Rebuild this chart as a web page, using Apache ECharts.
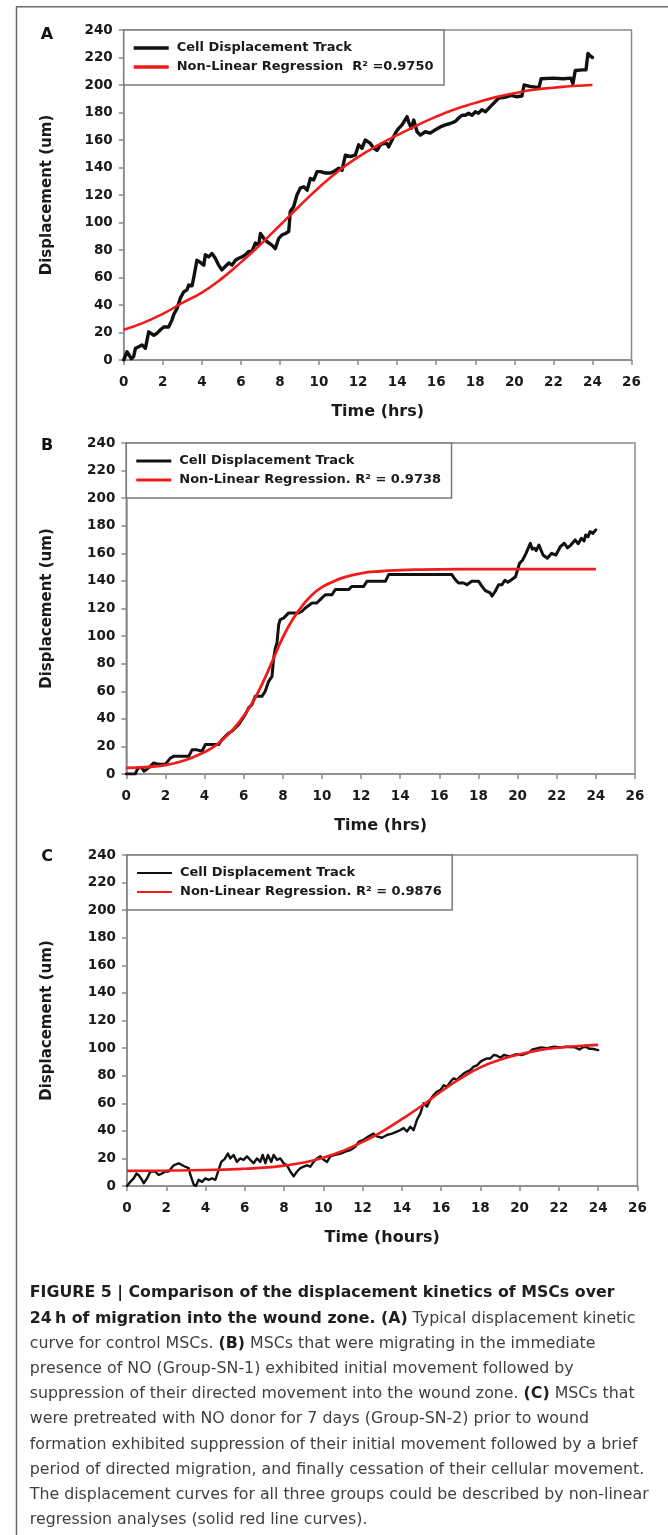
<!DOCTYPE html>
<html>
<head>
<meta charset="utf-8">
<script src="https://cdn.jsdelivr.net/npm/echarts@6/dist/echarts.min.js"></script>
<style>
  html, body { margin: 0; padding: 0; background: #fff; }
  #fig { width: 668px; height: 1535px; }
</style>
</head>
<body>
<div id="fig"></div>
<script>
// ---- Data: [time (h), displacement (um)] ----
const trackA = [[0,0],[0.17,6],[0.39,1],[0.51,2.5],[0.6,8.5],[0.77,9.7],[0.94,11],[1.11,8.5],[1.19,9],[1.28,20.5],[1.54,18],[1.71,19.5],[1.88,22],[2.05,24],[2.3,24],[2.47,29],[2.56,33],[2.65,34],[2.73,37.5],[2.9,45],[3.07,49.5],[3.24,51],[3.33,54.5],[3.5,54],[3.58,59.5],[3.75,72.5],[3.92,71],[4.1,69],[4.18,76.5],[4.35,75],[4.52,77.5],[4.69,74],[4.86,69],[5.03,65.5],[5.2,68],[5.38,70.5],[5.55,69],[5.72,72.5],[5.89,74],[6.06,75],[6.23,76.5],[6.4,79],[6.57,79],[6.74,85],[6.91,83.5],[7.0,92],[7.17,88.5],[7.34,86],[7.59,83.5],[7.76,81],[7.94,88.5],[8.11,91],[8.28,92],[8.45,93.5],[8.53,108],[8.7,111.5],[8.87,120],[9.04,125],[9.22,126],[9.39,123.5],[9.56,132],[9.73,131],[9.9,137],[10.07,137],[10.32,136],[10.58,136],[10.75,137],[11.01,139.5],[11.18,138],[11.35,149],[11.6,148],[11.86,149],[12.03,156.5],[12.2,154],[12.37,160],[12.63,157.5],[12.8,154],[12.97,152.5],[13.14,156.5],[13.31,157.5],[13.48,157.5],[13.57,155],[13.74,160],[13.91,165],[14.08,168.5],[14.25,171],[14.51,177],[14.59,173],[14.73,168.5],[14.85,174.5],[15.02,166],[15.19,163.5],[15.44,166],[15.7,165],[15.96,167.5],[16.21,169.5],[16.47,171],[16.72,172],[16.98,173.5],[17.15,176],[17.32,178],[17.49,178],[17.66,179.5],[17.83,178],[18.0,180.5],[18.17,179.5],[18.34,182],[18.52,180.5],[18.69,183],[18.86,185.5],[19.03,188],[19.2,190.5],[19.5,191],[19.85,192.5],[20.1,191.5],[20.39,192],[20.5,200],[20.8,199],[21.26,198],[21.37,204.5],[22.0,205],[22.5,204.5],[22.9,205],[23.0,201],[23.12,210.5],[23.5,211],[23.67,211],[23.77,223],[23.9,221],[24.0,220]];
const fitA = [[0,22],[1,27],[2,33.5],[3,41.5],[4,49],[5,59],[6,71],[7,84],[8,98],[9,112],[10,125.5],[11,137.5],[12,147.5],[13,156],[14,163.5],[15,170.5],[16,177],[17,182.5],[18,187],[19,191],[20,194],[21,196.5],[22,198],[23,199.3],[24,200]];

const trackB = [[0,0],[0.46,0],[0.55,3],[0.63,4.5],[0.8,4.5],[0.9,2],[0.97,1.5],[1.1,4],[1.22,5.5],[1.39,8],[1.55,7.5],[1.73,7],[1.99,7],[2.25,11.5],[2.42,12.8],[3.19,12.8],[3.36,17.5],[3.61,17.5],[3.87,16.5],[4.04,21.3],[4.72,21.3],[4.89,25],[5.06,27.3],[5.23,29.7],[5.4,31],[5.57,33.4],[5.74,35.8],[5.91,39.4],[6.08,43],[6.25,48],[6.42,50.3],[6.59,56.3],[6.93,56.3],[7.1,60],[7.27,67],[7.45,71],[7.53,84],[7.62,91.4],[7.7,95],[7.79,108.3],[7.87,112],[8.04,113],[8.3,116.8],[8.81,116.8],[8.98,118],[9.15,120.4],[9.49,124],[9.74,124],[9.91,126.4],[10.17,130],[10.51,130],[10.68,133.7],[11.36,133.7],[11.53,136],[12.13,136],[12.3,139.7],[13.24,139.7],[13.41,144.6],[16.64,144.6],[16.81,141],[16.98,138.5],[17.24,138.5],[17.41,137.3],[17.66,139.7],[18.01,139.7],[18.18,136],[18.35,133],[18.6,131.3],[18.69,129],[18.86,132.5],[19.03,137.3],[19.2,137.3],[19.35,140.5],[19.5,139],[19.67,140.7],[19.89,143],[20.1,152.8],[20.25,155],[20.43,160],[20.65,167.3],[20.75,163],[20.87,163.7],[20.95,162],[21.09,166],[21.3,158.8],[21.52,156.4],[21.74,160],[21.96,158.8],[22.18,164.8],[22.39,167.3],[22.55,164],[22.72,166],[22.94,169.7],[23.1,167],[23.26,170.9],[23.4,169],[23.48,173.3],[23.6,172],[23.7,175.7],[23.85,174.5],[24,177]];
const fitB = [[0,4.5],[1,5],[2,6.5],[3,10],[4,16],[4.5,20],[5,26],[5.5,33],[6,42],[6.5,53],[7,67],[7.5,83],[8,99],[8.5,112],[9,122],[9.5,130],[10,135.5],[10.5,139],[11,142],[12,145.5],[13,147],[14,147.8],[15,148.2],[16,148.4],[18,148.5],[20,148.5],[22,148.5],[24,148.5]];

const trackC = [[0,0],[0.17,3],[0.34,5.5],[0.48,9],[0.59,8],[0.76,4.5],[0.85,2],[1.02,5.5],[1.19,10.5],[1.27,11.5],[1.44,10.5],[1.61,8],[1.78,9],[1.95,10.5],[2.12,10.5],[2.38,15],[2.63,16.5],[2.89,14.5],[3.14,13],[3.23,8],[3.4,1],[3.51,0],[3.65,4.5],[3.82,3],[3.99,5.5],[4.16,4.5],[4.33,5.5],[4.5,4.5],[4.64,10.5],[4.8,17.5],[4.97,19.5],[5.14,23.5],[5.26,20],[5.43,22.5],[5.6,17.5],[5.77,20],[5.94,19],[6.11,21.5],[6.28,19],[6.45,16.5],[6.62,20],[6.79,17.5],[6.91,22.5],[7.05,16.5],[7.18,22.5],[7.35,17.5],[7.47,22.5],[7.64,19],[7.81,20],[7.98,16.5],[8.15,15],[8.32,10.5],[8.49,7],[8.66,10.5],[8.83,13],[9.0,14],[9.17,15],[9.34,14],[9.51,17.5],[9.68,20],[9.85,21.5],[10.02,19],[10.19,17.5],[10.36,21.5],[10.61,22.5],[10.87,23.5],[11.12,25],[11.38,26],[11.63,28.5],[11.8,32],[12.05,33.5],[12.31,36],[12.56,38],[12.73,36],[12.99,35],[13.24,37],[13.5,38],[13.75,39.5],[13.92,40.5],[14.09,42],[14.26,39.5],[14.43,43],[14.6,40.5],[14.77,48],[14.94,52.5],[15.11,60],[15.28,57.5],[15.45,62.5],[15.62,66],[15.79,68.5],[15.96,69.5],[16.13,73],[16.3,72],[16.47,75.5],[16.64,78],[16.81,77],[16.98,79.5],[17.15,81.5],[17.32,83],[17.49,84],[17.66,86.5],[17.83,87.5],[18.0,90],[18.17,91.5],[18.34,92.5],[18.51,92.5],[18.68,95],[18.85,94.5],[19.02,93],[19.2,95],[19.5,94],[19.8,95.5],[20.1,95],[20.44,96.5],[20.66,99],[21.1,100.5],[21.4,100],[21.75,101],[22.1,100.5],[22.4,101],[22.83,100.5],[23.05,99],[23.2,100.5],[23.37,101],[23.55,99.5],[23.7,99.5],[24,98.5]];
const fitC = [[0,11],[2,11.2],[4,11.6],[6,12.5],[7,13.3],[8,14.8],[9,17],[10,20.5],[11,25.5],[12,32],[13,39.5],[14,48.5],[15,58],[16,68.5],[17,78],[18,86],[19,91.5],[20,95.5],[21,98.5],[22,100.3],[23,101.5],[24,102.3]];

// ---- Labels ----
const trackName = 'Cell Displacement Track';
const fitNames = ['Non-Linear Regression  R\u00B2 =0.9750', 'Non-Linear Regression. R\u00B2 = 0.9738', 'Non-Linear Regression. R\u00B2 = 0.9876'];
const panelLetters = ['A', 'B', 'C'];
const xTitles = ['Time (hrs)', 'Time (hrs)', 'Time (hours)'];
const yTitle = 'Displacement (um)';
const xRange = [0, 26], xStep = 2;
const yRange = [0, 240], yStep = 20;

// caption: each line is a list of [style, text] runs
const captionLines = [
  [['b', 'FIGURE 5 | Comparison of the displacement kinetics of MSCs over']],
  [['b', '24\u2009h of migration into the wound zone. (A)'], ['r', ' Typical displacement kinetic']],
  [['r', 'curve for control MSCs. '], ['b', '(B)'], ['r', ' MSCs that were migrating in the immediate']],
  [['r', 'presence of NO (Group-SN-1) exhibited initial movement followed by']],
  [['r', 'suppression of their directed movement into the wound zone. '], ['b', '(C)'], ['r', ' MSCs that']],
  [['r', 'were pretreated with NO donor for 7 days (Group-SN-2) prior to wound']],
  [['r', 'formation exhibited suppression of their initial movement followed by a brief']],
  [['r', 'period of directed migration, and finally cessation of their cellular movement.']],
  [['r', 'The displacement curves for all three groups could be described by non-linear']],
  [['r', 'regression analyses (solid red line curves).']]
];

// ---- Styling / layout ----
const FONT = 'DejaVu Sans';
const INK = '#111111';
const RED = '#f21b1b';
const FRAME = '#8a8a8a';
const LABEL = '#1a1a1a';

const layout = [
  { grid: { left: 123.7, top: 30,  width: 507.8, height: 330 }, letterY: 35,  trackW: 3.4, fitW: 2.6, legendLine: 3.5, yGap: 69,   xGap: 44 },
  { grid: { left: 126.3, top: 443, width: 508.7, height: 331 }, letterY: 446, trackW: 3.0, fitW: 2.8, legendLine: 3.0, yGap: 71.5, xGap: 43.5 },
  { grid: { left: 127,   top: 855, width: 510.4, height: 331 }, letterY: 857, trackW: 2.4, fitW: 2.6, legendLine: 2.2, yGap: 72,   xGap: 44 }
];
const tracks = [trackA, trackB, trackC];
const fits = [fitA, fitB, fitC];

const grids = [], xAxes = [], yAxes = [], series = [], legends = [], graphics = [];

layout.forEach((p, i) => {
  grids.push(Object.assign({ show: true, borderColor: FRAME, borderWidth: 1.5, backgroundColor: '#fff', containLabel: false, outerBoundsMode: 'none' }, p.grid));

  xAxes.push({
    type: 'value', gridIndex: i, min: xRange[0], max: xRange[1], interval: xStep,
    name: xTitles[i], nameLocation: 'middle', nameGap: p.xGap,
    nameTextStyle: { fontFamily: FONT, fontWeight: 'bold', fontSize: 16, color: LABEL },
    axisLine: { show: true, onZero: false, lineStyle: { color: FRAME, width: 1.5 } },
    axisTick: { show: true, inside: false, length: 5, lineStyle: { color: FRAME, width: 1.5 } },
    axisLabel: { fontFamily: FONT, fontWeight: 'bold', fontSize: 13.5, color: LABEL, margin: 15 },
    splitLine: { show: false }
  });

  yAxes.push({
    type: 'value', gridIndex: i, min: yRange[0], max: yRange[1], interval: yStep,
    name: yTitle, nameLocation: 'middle', nameGap: p.yGap, nameRotate: 90,
    nameTextStyle: { fontFamily: FONT, fontWeight: 'bold', fontSize: 15, color: LABEL },
    axisLine: { show: true, onZero: false, lineStyle: { color: FRAME, width: 1.5 } },
    axisTick: { show: true, inside: false, length: 5, lineStyle: { color: FRAME, width: 1.5 } },
    axisLabel: { fontFamily: FONT, fontWeight: 'bold', fontSize: 13.5, color: LABEL, margin: 11 },
    splitLine: { show: false }
  });

  series.push({
    name: trackName, type: 'line', xAxisIndex: i, yAxisIndex: i, data: tracks[i],
    symbol: 'none', smooth: false, animation: false, z: 2,
    lineStyle: { color: INK, width: p.trackW, join: 'round', cap: 'round' },
    itemStyle: { color: INK }
  });
  series.push({
    name: fitNames[i], type: 'line', xAxisIndex: i, yAxisIndex: i, data: fits[i],
    symbol: 'none', smooth: 0.5, animation: false, z: 3,
    lineStyle: { color: RED, width: p.fitW },
    itemStyle: { color: RED }
  });

  legends.push({
    left: p.grid.left, top: p.grid.top, orient: 'vertical',
    icon: 'rect', itemWidth: 35, itemHeight: p.legendLine, itemGap: 5,
    padding: [11, 10.5, 11, 10],
    borderColor: '#7a7a7a', borderWidth: 1.5, backgroundColor: '#fff',
    selectedMode: false,
    textStyle: { fontFamily: FONT, fontWeight: 'bold', fontSize: 13, color: LABEL, lineHeight: 14, padding: [0, 0, 0, 3] },
    data: [trackName, fitNames[i]]
  });

  graphics.push({
    type: 'text', x: 47, y: p.letterY,
    style: { text: panelLetters[i], fontFamily: FONT, fontWeight: 'bold', fontSize: 16, fill: '#111', textAlign: 'center', textVerticalAlign: 'middle' }
  });
});

// outer figure frame (left and top edges)
graphics.push({
  type: 'polyline', z: 0,
  shape: { points: [[16.5, 1535], [16.5, 6.7], [670, 6.7]] },
  style: { stroke: '#6a6a6a', lineWidth: 1.5, fill: null }
});

// caption lines
const captionTop = 1293.3, captionStep = 25.2, captionLeft = 29.8;
captionLines.forEach((runs, k) => {
  const text = runs.map(r => '{' + r[0] + '|' + r[1] + '}').join('');
  graphics.push({
    type: 'text', x: captionLeft, y: captionTop + k * captionStep,
    style: {
      text: text, textAlign: 'left', textVerticalAlign: 'middle',
      rich: {
        b: { fontFamily: FONT, fontWeight: 'bold', fontSize: 15.8, fill: '#1e1e1e' },
        r: { fontFamily: FONT, fontWeight: 'normal', fontSize: 15.8, fill: '#3f3f3f' }
      }
    }
  });
});

const chart = echarts.init(document.getElementById('fig'), null, { renderer: 'canvas', width: 668, height: 1535 });
chart.setOption({
  animation: false,
  backgroundColor: '#fff',
  grid: grids,
  xAxis: xAxes,
  yAxis: yAxes,
  legend: legends,
  series: series,
  graphic: graphics
});
</script>
</body>
</html>
